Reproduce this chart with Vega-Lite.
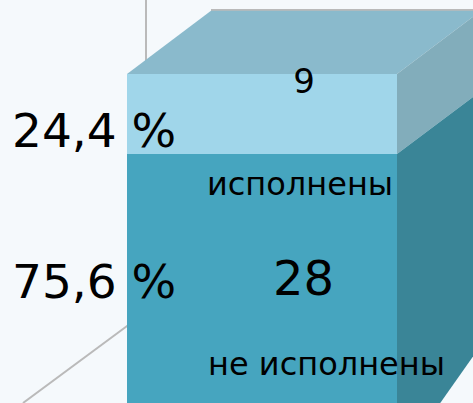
{
  "$schema": "https://vega.github.io/schema/vega-lite/v6.json",
  "width": 473,
  "height": 403,
  "padding": 0,
  "autosize": {"type": "fit", "contains": "padding"},
  "background": "#f5f9fc",
  "config": {"view": {"stroke": null}, "text": {"font": "DejaVu Sans", "color": "#000000"}},
  "datasets": {
    "segments": [
      {"status": "не исполнены", "count": 28, "pct": "75,6 %", "start": 0, "end": 28, "x0": 127, "x1": 397},
      {"status": "исполнены", "count": 9, "pct": "24,4 %", "start": 28, "end": 37, "x0": 127, "x1": 397}
    ],
    "top": [
      {"x": 127, "x2": 397, "y": 37},
      {"x": 211, "x2": 481, "y": 44.1}
    ],
    "sides": [
      {"face": "исполнены", "x": 397, "y": 37, "y2": 28},
      {"face": "исполнены", "x": 481, "y": 44.1, "y2": 35.1},
      {"face": "не исполнены", "x": 397, "y": 28, "y2": -6.9},
      {"face": "не исполнены", "x": 481, "y": 35.1, "y2": 6.5}
    ],
    "lines": [
      {"x": 146, "y": 45.32, "x2": 146, "y2": 38},
      {"x": 23, "y": 0, "x2": 200, "y2": 14.73},
      {"x": 211, "y": 44.2, "x2": 481, "y2": 44.2}
    ]
  },
  "layer": [
    {
      "data": {"name": "lines"},
      "mark": {"type": "rule", "color": "#bababa", "strokeWidth": 2, "clip": true},
      "encoding": {
        "x": {"field": "x", "type": "quantitative", "scale": {"domain": [0, 473], "nice": false, "zero": false}, "axis": null},
        "x2": {"field": "x2"},
        "y": {"field": "y", "type": "quantitative", "scale": {"domain": [0, 45.32], "nice": false, "zero": false}, "axis": null},
        "y2": {"field": "y2"}
      }
    },
    {
      "data": {"name": "top"},
      "mark": {"type": "area", "orient": "horizontal", "color": "#8abacc", "clip": true},
      "encoding": {
        "y": {"field": "y", "type": "quantitative", "scale": {"domain": [0, 45.32], "nice": false, "zero": false}, "axis": null},
        "x": {"field": "x", "type": "quantitative", "scale": {"domain": [0, 473], "nice": false, "zero": false}, "axis": null},
        "x2": {"field": "x2"}
      }
    },
    {
      "data": {"name": "sides"},
      "mark": {"type": "area", "clip": true},
      "encoding": {
        "x": {"field": "x", "type": "quantitative", "scale": {"domain": [0, 473], "nice": false, "zero": false}, "axis": null},
        "y": {"field": "y", "type": "quantitative", "scale": {"domain": [0, 45.32], "nice": false, "zero": false}, "axis": null},
        "y2": {"field": "y2"},
        "color": {"field": "face", "type": "nominal", "scale": {"domain": ["исполнены", "не исполнены"], "range": ["#82adbb", "#3a8597"]}, "legend": null}
      }
    },
    {
      "data": {"name": "segments"},
      "mark": {"type": "rect", "clip": true},
      "encoding": {
        "x": {"field": "x0", "type": "quantitative", "scale": {"domain": [0, 473], "nice": false, "zero": false}, "axis": null},
        "x2": {"field": "x1"},
        "y": {"field": "start", "type": "quantitative", "scale": {"domain": [0, 45.32], "nice": false, "zero": false}, "axis": null},
        "y2": {"field": "end"},
        "fill": {"field": "status", "type": "nominal", "scale": {"domain": ["исполнены", "не исполнены"], "range": ["#a0d6ea", "#46a5bf"]}, "legend": null}
      }
    },
    {
      "data": {"name": "segments"},
      "transform": [{"filter": "datum.status == 'исполнены'"}],
      "layer": [
        {
          "mark": {"type": "text", "align": "left", "baseline": "alphabetic", "fontSize": 47, "dx": -115, "dy": 73},
          "encoding": {
            "x": {"field": "x0", "type": "quantitative", "scale": {"domain": [0, 473], "nice": false, "zero": false}, "axis": null},
            "y": {"field": "end", "type": "quantitative", "scale": {"domain": [0, 45.32], "nice": false, "zero": false}, "axis": null},
            "text": {"field": "pct"}
          }
        },
        {
          "mark": {"type": "text", "align": "center", "baseline": "alphabetic", "fontSize": 34, "dx": 177, "dy": 19},
          "encoding": {
            "x": {"field": "x0", "type": "quantitative", "scale": {"domain": [0, 473], "nice": false, "zero": false}, "axis": null},
            "y": {"field": "end", "type": "quantitative", "scale": {"domain": [0, 45.32], "nice": false, "zero": false}, "axis": null},
            "text": {"field": "count"}
          }
        },
        {
          "mark": {"type": "text", "align": "center", "baseline": "alphabetic", "fontSize": 32, "dx": 173, "dy": 121},
          "encoding": {
            "x": {"field": "x0", "type": "quantitative", "scale": {"domain": [0, 473], "nice": false, "zero": false}, "axis": null},
            "y": {"field": "end", "type": "quantitative", "scale": {"domain": [0, 45.32], "nice": false, "zero": false}, "axis": null},
            "text": {"field": "status"}
          }
        }
      ]
    },
    {
      "data": {"name": "segments"},
      "transform": [{"filter": "datum.status == 'не исполнены'"}],
      "layer": [
        {
          "mark": {"type": "text", "align": "left", "baseline": "alphabetic", "fontSize": 47, "dx": -115, "dy": 144},
          "encoding": {
            "x": {"field": "x0", "type": "quantitative", "scale": {"domain": [0, 473], "nice": false, "zero": false}, "axis": null},
            "y": {"field": "end", "type": "quantitative", "scale": {"domain": [0, 45.32], "nice": false, "zero": false}, "axis": null},
            "text": {"field": "pct"}
          }
        },
        {
          "mark": {"type": "text", "align": "center", "baseline": "alphabetic", "fontSize": 48, "dx": 176.5, "dy": 141},
          "encoding": {
            "x": {"field": "x0", "type": "quantitative", "scale": {"domain": [0, 473], "nice": false, "zero": false}, "axis": null},
            "y": {"field": "end", "type": "quantitative", "scale": {"domain": [0, 45.32], "nice": false, "zero": false}, "axis": null},
            "text": {"field": "count"}
          }
        },
        {
          "mark": {"type": "text", "align": "center", "baseline": "alphabetic", "fontSize": 32, "dx": 199.5, "dy": 221},
          "encoding": {
            "x": {"field": "x0", "type": "quantitative", "scale": {"domain": [0, 473], "nice": false, "zero": false}, "axis": null},
            "y": {"field": "end", "type": "quantitative", "scale": {"domain": [0, 45.32], "nice": false, "zero": false}, "axis": null},
            "text": {"field": "status"}
          }
        }
      ]
    }
  ]
}
